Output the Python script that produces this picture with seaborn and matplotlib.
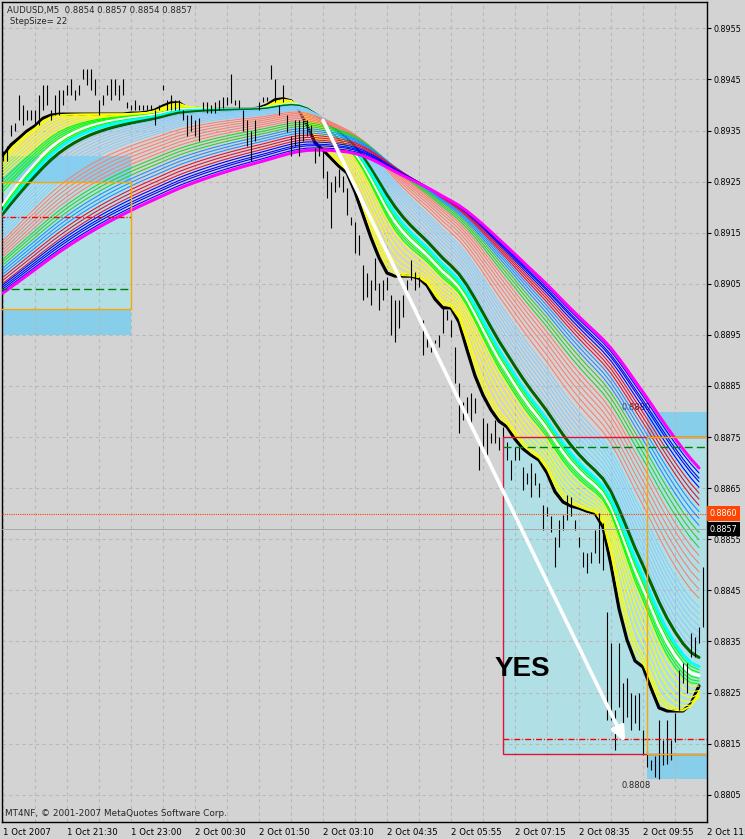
import numpy as np
import pandas as pd
import matplotlib
matplotlib.use("Agg")
import matplotlib.pyplot as plt
from matplotlib.patches import Rectangle
import seaborn as sns

# ---------------- values ----------------
symbol_header = "AUDUSD,M5  0.8854 0.8857 0.8854 0.8857"
step_header = "StepSize= 22"
copyright_text = "MT4NF, \u00a9 2001-2007 MetaQuotes Software Corp."

time_labels = ["1 Oct 2007", "1 Oct 21:30", "1 Oct 23:00", "2 Oct 00:30",
               "2 Oct 01:50", "2 Oct 03:10", "2 Oct 04:35", "2 Oct 05:55",
               "2 Oct 07:15", "2 Oct 08:35", "2 Oct 09:55", "2 Oct 11:15"]
price_ticks = [0.8805, 0.8815, 0.8825, 0.8835, 0.8845, 0.8855, 0.8865, 0.8875,
               0.8885, 0.8895, 0.8905, 0.8915, 0.8925, 0.8935, 0.8945, 0.8955]

# M5 bars, low / high in pips above 0.8800
bar_low_pips = [
    129, 129, 134, 135, 137, 136, 137, 137, 136, 136,
    139, 140, 137, 138, 138, 140, 142, 142, 141, 142,
    145, 144, 143, 142, 138, 140, 142, 141, 142, 141,
    142, 139.5, 139, 139, 139, 139, 139, 139, 136, 139,
    143, 139, 139, 139, 139, 137, 134, 135, 134, 133,
    139, 138.5, 138.5, 138.5, 139, 139.5, 140, 140.4, 140, 139.5,
    135, 132, 129, 133, 139, 140.6, 140.8, 145, 140.6, 138,
    140.6, 134.7, 130, 132, 130, 133, 134, 134, 128.6, 130,
    125.7, 121.8, 115.9, 123, 124, 123, 118.5, 116.5, 111, 110.6,
    101.8, 102.4, 100.8, 103.8, 99.9, 101.8, 103.8, 95, 93.6, 96.4,
    98.5, 102.8, 105.7, 103.8, 104.4, 91.1, 92.6, 91.7, 93.5, 92.6,
    95.4, 97.9, 94.6, 85.6, 75.8, 78.3, 79.7, 77.7, 79.7, 68.6,
    71.9, 71.1, 73.9, 73.9, 72.5, 74, 70.5, 66.6, 70.5, 70.5,
    64.7, 65.8, 63.3, 65.6, 63.3, 56.8, 59.6, 56.4, 49.6, 53.5,
    56.8, 58.8, 59.6, 56.8, 53.5, 49.6, 48.4, 50.4, 52.3, 50.4,
    49, 19.6, 19.6, 13.8, 22.2, 17.7, 20.2, 17.7, 19, 17.7,
    12.8, 10.4, 9.9, 8.5, 8, 10.8, 11.1, 11.9, 15.3, 21.6,
    26.9, 24.9, 32, 32, 34.7, 37.8]
bar_high_pips = [
    131, 132, 136, 136.5, 142, 140, 139, 139, 139, 142,
    144, 144, 139, 142, 143, 143, 144, 145, 143, 144,
    147, 147, 147, 145, 141, 142, 144, 145, 145, 144,
    145, 140.5, 140, 141, 140, 140, 140, 140, 139, 140,
    144, 141, 142, 141, 141, 139, 138, 138, 137, 137.5,
    140.6, 140.6, 140, 140.5, 141, 141.5, 141.5, 146, 141, 141,
    139, 137, 135, 137, 140.6, 141.6, 141.6, 147.8, 145, 140,
    144, 138, 134, 137, 137, 137, 137, 136, 131.6, 132,
    131, 127, 125, 126, 127.5, 126, 123.8, 118, 117, 114.5,
    108.7, 107.1, 105.7, 110, 105.2, 105.7, 106.3, 102.8, 101.8, 101.8,
    102.8, 105.7, 109.6, 107.3, 106.3, 97.9, 95.6, 94, 94, 95,
    100.5, 99.9, 97.9, 92.6, 85.6, 81.9, 82.8, 83.6, 82.6, 73.9,
    78.7, 77.7, 75.8, 78.3, 75, 77, 74.1, 70.5, 73.1, 73.1,
    69.2, 68, 70, 68, 66, 61.7, 61.3, 59.6, 55.4, 58.8,
    59.8, 63.7, 63.3, 58.8, 55.4, 52.5, 52.3, 52.5, 56.8, 60.2,
    58.2, 40.8, 34.7, 21.6, 34.7, 26.9, 27.9, 25, 24.6, 25,
    17.7, 13.8, 11.9, 12.5, 19.6, 15.7, 19.6, 15.7, 21, 29.4,
    30.8, 30.8, 36.7, 35.9, 37.8, 49.6]

# black step line, read every second bar (bar 0, 2, ..., 174)
step_line = [
    0.89300, 0.89322, 0.89335, 0.89349, 0.89359, 0.89374, 0.89380, 0.89382,
    0.89382, 0.89382, 0.89382, 0.89382, 0.89382, 0.89382, 0.89382, 0.89382,
    0.89384, 0.89384, 0.89386, 0.89390, 0.89398, 0.89404, 0.89404, 0.89394,
    0.89394, 0.89392, 0.89392, 0.89392, 0.89392, 0.89392, 0.89392, 0.89392,
    0.89394, 0.89400, 0.89410, 0.89412, 0.89408, 0.89390, 0.89361, 0.89326,
    0.89312, 0.89296, 0.89280, 0.89267, 0.89230, 0.89185, 0.89140, 0.89101,
    0.89071, 0.89065, 0.89065, 0.89065, 0.89061, 0.89047, 0.89020, 0.89003,
    0.89003, 0.88975, 0.88921, 0.88870, 0.88832, 0.88803, 0.88781, 0.88770,
    0.88746, 0.88727, 0.88715, 0.88705, 0.88680, 0.88643, 0.88623, 0.88615,
    0.88611, 0.88605, 0.88601, 0.88574, 0.88500, 0.88414, 0.88353, 0.88312,
    0.88300, 0.88259, 0.88220, 0.88214, 0.88214, 0.88214, 0.88228, 0.88263]

# rainbow of moving averages of the step line: period and value at the left edge
ma_periods = [3, 4, 5, 7, 9, 11, 13, 15,
              16, 17, 18, 19, 19, 20, 21, 22, 25,
              27, 29, 31, 33, 35, 37, 39, 41,
              44, 47, 50, 53, 56, 59,
              62, 65, 68, 71, 74, 77, 80, 83, 86,
              89, 92, 94, 97, 100]
ma_seeds = [0.89296, 0.89292, 0.89288, 0.89284, 0.89279, 0.89273, 0.89267, 0.89261,
            0.89253, 0.89245, 0.89237, 0.89230, 0.89204, 0.89200, 0.89196, 0.89190, 0.89186,
            0.89181, 0.89175, 0.89169, 0.89163, 0.89157, 0.89151, 0.89145, 0.89140,
            0.89134, 0.89128, 0.89122, 0.89116, 0.89110, 0.89104,
            0.89098, 0.89093, 0.89087, 0.89081, 0.89075, 0.89069, 0.89063, 0.89057, 0.89051,
            0.89048, 0.89044, 0.89040, 0.89036, 0.89032]
ma_colors = (["#FFFF00"] * 8 + ["#00FF00"] * 4 + ["#FFFFFF"] + ["#00FF00"] * 2
             + ["#00FFFF", "#006400"] + ["#87CEFA"] * 8 + ["#FA8072"] * 6
             + ["#32CD32"] * 3 + ["#1E90FF"] * 3 + ["#DC143C"] * 3
             + ["#0000FF"] * 4 + ["#FF00FF"])
thick_lines = {"#FFFFFF", "#00FFFF", "#006400", "#FF00FF"}

# chart objects (price levels and bar ranges)
left_zone = [0.8895, 0.8930]
left_box = [0.8900, 0.8925]
left_red, left_green = 0.8918, 0.8904
left_bars = [-1, 32]
right_box = [0.8813, 0.8875]
right_zone = [0.8808, 0.8880]
right_red, right_green = 0.8816, 0.8873
right_box_bars = [125, 178]
right_zone_bars = [161, 178]
level_line = 0.8860
bid_price = 0.8857
trend_bars = [80, 155.5]
trend_prices = [0.8937, 0.88153]

# ---------------- frames ----------------
bars = pd.DataFrame({"bar": np.arange(len(bar_low_pips)),
                     "low": 0.88 + np.array(bar_low_pips) / 10000,
                     "high": 0.88 + np.array(bar_high_pips) / 10000})
step_df = pd.DataFrame({"bar": np.arange(0, 2 * len(step_line), 2), "price": step_line})

rows = []
for k, (n, seed) in enumerate(zip(ma_periods, ma_seeds)):
    a = 1 - (1 - 2 / (n + 1)) ** 2   # line is sampled every 2 bars
    vals = step_df["price"].copy()
    vals.iloc[0] = seed
    ema = vals.ewm(alpha=a, adjust=False).mean()
    rows.append(pd.DataFrame({"bar": step_df["bar"], "price": ema, "line": k}))
ribbon = pd.concat(rows, ignore_index=True)

# ---------------- drawing ----------------
sns.set_style("white")
plt.rcParams["font.family"] = ["DejaVu Sans"]
BG = "#D3D3D3"
FS = 5.8

fig = plt.figure(figsize=(7.45, 8.39), dpi=100, facecolor=BG)
ax = fig.add_axes([2 / 745, 17 / 839, 705 / 745, 820 / 839])
ax.set_facecolor(BG)
ax.set_xlim(-0.25, 176)
ax.set_ylim(0.879967, 0.896015)

# filled zones
def zone(xr, yr, color, z=1):
    ax.add_patch(Rectangle((xr[0], yr[0]), xr[1] - xr[0], yr[1] - yr[0],
                           fc=color, ec="none", zorder=z))

def outline(xr, yr, color):
    ax.add_patch(Rectangle((xr[0], yr[0]), xr[1] - xr[0], yr[1] - yr[0],
                           fill=False, ec=color, lw=1.0, zorder=7))

zone(left_bars, left_zone, "#87CEEB")
zone(left_bars, left_box, "#B0E0E6", 1.1)
zone(right_zone_bars, right_zone, "#87CEEB")
zone(right_box_bars, right_box, "#B0E0E6", 1.1)

# grid
grid_kw = dict(color="#B8B8B8", lw=0.8, ls=(0, (3, 3)), zorder=1.5)
for b in range(0, 177, 8):
    ax.axvline(b, **grid_kw)
for p in price_ticks:
    ax.axhline(p, **grid_kw)

ax.text(154.75, right_zone[1], "0.8880", ha="left", va="bottom", fontsize=6, zorder=2)

# step line and rainbow
sns.lineplot(data=step_df, x="bar", y="price", color="black", lw=2.3,
             estimator=None, sort=False, ax=ax, zorder=3)
for k, color in enumerate(ma_colors):
    sub = ribbon[ribbon["line"] == k]
    lw = 2.2 if color in thick_lines else 0.8
    sns.lineplot(data=sub, x="bar", y="price", color=color, lw=lw,
                 estimator=None, sort=False, ax=ax, zorder=4 + k * 0.01)

# price bars
ax.vlines(bars["bar"], bars["low"], bars["high"], color="black", lw=0.8, zorder=6)

# level lines
ax.hlines(left_red, *left_bars, color="#FF0000", lw=1.0, ls=(0, (4.3, 1.4, 0.7, 1.4)), zorder=7)
ax.hlines(left_green, *left_bars, color="#008000", lw=1.0, ls=(0, (5.8, 2.9)), zorder=7)
ax.hlines(right_red, *right_box_bars, color="#FF0000", lw=1.0, ls=(0, (4.3, 1.4, 0.7, 1.4)), zorder=7)
ax.hlines(right_green, *right_box_bars, color="#008000", lw=1.0, ls=(0, (5.8, 2.9)), zorder=7)
ax.axhline(level_line, color="#FF4500", lw=0.8, ls=(0, (1, 1)), zorder=7)
ax.axhline(bid_price, color="#A8A8A8", lw=0.7, zorder=7)
outline(left_bars, left_box, "#FFA500")
outline(right_box_bars, right_box, "#DC143C")
outline(right_zone_bars, right_box, "#FFA500")

# trend arrow
ax.annotate("", xy=(trend_bars[1], trend_prices[1]), xytext=(trend_bars[0], trend_prices[0]),
            arrowprops=dict(arrowstyle="-|>,head_length=0.9,head_width=0.4", color="white",
                            lw=2.6, shrinkA=0, shrinkB=0), zorder=9)

ax.text(154.75, right_zone[0] - 0.00003, "0.8808", ha="left", va="top", fontsize=6, zorder=8)
ax.text(123, 0.88296, "YES", fontsize=20, fontweight="bold", family="Liberation Sans",
        color="black", ha="left", va="center", zorder=9)

# axes
ax.set_xticks(range(0, 177, 16))
ax.set_xticklabels(time_labels)
for lbl in ax.get_xticklabels():
    lbl.set_ha("left")
ax.yaxis.tick_right()
ax.set_yticks(price_ticks)
ax.set_yticklabels([f"{p:.4f}" for p in price_ticks])
ax.tick_params(axis="both", direction="out", length=3, width=0.8, labelsize=FS, colors="black")
ax.tick_params(axis="x", pad=1.2, labelsize=6.2)
ax.tick_params(axis="y", pad=2)
ax.set_xlabel("")
ax.set_ylabel("")
for s in ax.spines.values():
    s.set_color("black")
    s.set_linewidth(1.0)

yt = ax.get_yaxis_transform()
ax.text(1.004, level_line, "0.8860", transform=yt, ha="left", va="center", color="white",
        fontsize=FS, clip_on=False, zorder=10,
        bbox=dict(boxstyle="square,pad=0.35", fc="#FF4500", ec="none"))
ax.text(1.004, bid_price, "0.8857", transform=yt, ha="left", va="center", color="white",
        fontsize=FS, clip_on=False, zorder=10,
        bbox=dict(boxstyle="square,pad=0.35", fc="black", ec="none"))

fig.text(7 / 745, 1 - 11 / 839, symbol_header, fontsize=6.1, ha="left", va="center")
fig.text(10 / 745, 1 - 21 / 839, step_header, fontsize=6.1, ha="left", va="center")
fig.text(5 / 745, 1 - 813 / 839, copyright_text, fontsize=6.4, ha="left", va="center")

fig.savefig("out.png", dpi=100, facecolor=BG)
